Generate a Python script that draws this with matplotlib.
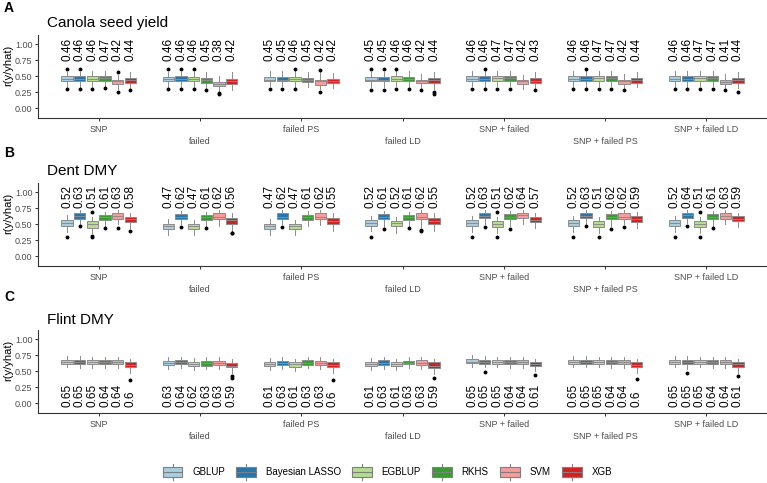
import matplotlib
matplotlib.use("Agg")
import matplotlib.pyplot as plt
from matplotlib.legend_handler import HandlerBase
from matplotlib.patches import Rectangle, Patch
from matplotlib.lines import Line2D

plt.rcParams['font.family'] = ['Liberation Sans', 'DejaVu Sans']

groups = ['SNP', 'failed', 'failed PS', 'failed LD',
          'SNP + failed', 'SNP + failed PS', 'SNP + failed LD']
models = ['GBLUP', 'Bayesian LASSO', 'EGBLUP', 'RKHS', 'SVM', 'XGB']
colors = ['#A6CEE3', '#1F78B4', '#B2DF8A', '#33A02C', '#FB9A99', '#E31A1C']

# ---- Canola seed yield ----
canola_r = [[.46, .46, .46, .47, .42, .44],
            [.46, .46, .46, .45, .38, .42],
            [.45, .45, .46, .45, .42, .42],
            [.45, .45, .46, .46, .42, .44],
            [.46, .46, .47, .47, .42, .43],
            [.46, .46, .47, .47, .42, .44],
            [.46, .46, .47, .47, .41, .44]]
canola_q1 = [[.42, .42, .42, .43, .38, .40],
             [.42, .42, .42, .40, .35, .38],
             [.42, .42, .42, .41, .37, .39],
             [.42, .42, .43, .42, .39, .39],
             [.43, .42, .43, .43, .38, .40],
             [.42, .42, .43, .43, .38, .40],
             [.42, .42, .43, .43, .38, .40]]
canola_q3 = [[.50, .50, .50, .51, .45, .48],
             [.49, .50, .49, .48, .41, .46],
             [.49, .49, .49, .48, .45, .46],
             [.49, .49, .50, .49, .45, .47],
             [.51, .50, .50, .50, .45, .47],
             [.50, .50, .50, .50, .45, .48],
             [.50, .50, .50, .51, .45, .48]]
canola_lo = [[.34, .34, .34, .35, .30, .31],
             [.34, .34, .34, .32, .27, .29],
             [.35, .35, .34, .33, .30, .32],
             [.34, .34, .35, .34, .31, .30],
             [.35, .34, .35, .35, .31, .32],
             [.34, .34, .35, .35, .31, .33],
             [.34, .34, .35, .35, .31, .32]]
canola_hi = [[.57, .57, .59, .59, .52, .57],
             [.57, .57, .57, .56, .51, .56],
             [.58, .58, .58, .56, .56, .55],
             [.57, .57, .58, .58, .53, .56],
             [.59, .58, .58, .59, .52, .56],
             [.58, .58, .58, .59, .53, .57],
             [.58, .58, .58, .59, .53, .56]]
canola_out = {(0, 0): [.30, .61], (0, 1): [.30, .61], (0, 2): [.31], (0, 3): [.32],
              (0, 4): [.26, .56], (0, 5): [.28],
              (1, 0): [.30, .61], (1, 1): [.30, .61], (1, 2): [.30, .61], (1, 3): [.29],
              (1, 4): [.22, .24],
              (2, 0): [.30], (2, 1): [.30], (2, 2): [.30, .61], (2, 4): [.25, .60],
              (3, 0): [.29, .61], (3, 1): [.29, .61], (3, 2): [.30, .62], (3, 3): [.30],
              (3, 4): [.28], (3, 5): [.23, .25],
              (4, 0): [.30], (4, 1): [.30, .62], (4, 2): [.31], (4, 3): [.31], (4, 5): [.29],
              (5, 0): [.30], (5, 1): [.30, .62], (5, 2): [.31], (5, 3): [.31], (5, 4): [.28],
              (6, 0): [.30], (6, 1): [.30], (6, 2): [.31], (6, 3): [.31], (6, 4): [.28],
              (6, 5): [.26]}

# ---- Dent DMY ----
dent_r = [[.52, .63, .51, .61, .63, .58],
          [.47, .62, .47, .61, .62, .56],
          [.47, .62, .47, .61, .62, .55],
          [.52, .61, .52, .61, .62, .55],
          [.52, .63, .51, .62, .64, .57],
          [.52, .63, .51, .62, .62, .59],
          [.52, .64, .51, .61, .63, .59]]
dent_q1 = [[.48, .59, .45, .57, .58, .53],
           [.43, .58, .43, .57, .58, .51],
           [.43, .59, .43, .57, .58, .50],
           [.48, .58, .47, .57, .58, .51],
           [.48, .60, .46, .58, .60, .53],
           [.48, .60, .46, .58, .59, .54],
           [.48, .60, .46, .58, .59, .55]]
dent_q3 = [[.56, .67, .55, .65, .67, .62],
           [.51, .66, .50, .65, .67, .60],
           [.50, .67, .50, .65, .67, .60],
           [.56, .66, .55, .65, .67, .60],
           [.56, .67, .55, .66, .67, .61],
           [.56, .68, .55, .66, .67, .63],
           [.56, .68, .55, .66, .67, .63]]
dent_lo = [[.38, .50, .36, .47, .50, .45],
           [.33, .50, .34, .47, .47, .40],
           [.34, .50, .34, .48, .49, .40],
           [.39, .46, .37, .48, .46, .40],
           [.38, .50, .37, .47, .50, .45],
           [.38, .51, .36, .47, .50, .44],
           [.38, .52, .36, .46, .50, .46]]
dent_hi = [[.64, .72, .62, .70, .72, .68],
           [.58, .71, .57, .70, .72, .68],
           [.58, .72, .57, .71, .72, .67],
           [.63, .71, .62, .70, .72, .67],
           [.63, .72, .62, .71, .72, .68],
           [.63, .73, .62, .71, .72, .69],
           [.63, .73, .62, .71, .72, .68]]
dent_out = {(0, 0): [.31], (0, 1): [.47], (0, 2): [.31, .32, .69], (0, 3): [.44],
            (0, 4): [.44], (0, 5): [.39],
            (1, 1): [.46], (1, 3): [.44], (1, 5): [.36, .37],
            (2, 1): [.46],
            (3, 0): [.31], (3, 1): [.43], (3, 3): [.44], (3, 4): [.39, .41],
            (4, 0): [.31], (4, 1): [.46], (4, 2): [.31, .69], (4, 3): [.43],
            (5, 0): [.31], (5, 1): [.47], (5, 2): [.31], (5, 3): [.43], (5, 4): [.46],
            (6, 0): [.31], (6, 1): [.47], (6, 2): [.31, .69], (6, 3): [.44]}

# ---- Flint DMY ----
flint_r = [[.65, .65, .65, .64, .64, .6],
           [.63, .64, .62, .63, .63, .59],
           [.61, .63, .61, .63, .63, .6],
           [.61, .63, .61, .63, .63, .59],
           [.65, .65, .65, .64, .64, .61],
           [.65, .65, .65, .64, .64, .6],
           [.65, .65, .65, .64, .64, .61]]
flint_q1 = [[.62, .62, .61, .61, .61, .56],
            [.60, .61, .58, .59, .60, .56],
            [.58, .60, .57, .60, .60, .56],
            [.58, .60, .58, .61, .60, .55],
            [.63, .62, .62, .61, .61, .58],
            [.62, .62, .62, .61, .61, .56],
            [.62, .61, .62, .61, .61, .57]]
flint_q3 = [[.68, .68, .68, .67, .67, .65],
            [.66, .67, .65, .66, .66, .63],
            [.65, .66, .64, .67, .66, .64],
            [.65, .67, .64, .66, .67, .64],
            [.69, .68, .68, .67, .67, .64],
            [.68, .68, .68, .67, .67, .64],
            [.68, .68, .68, .67, .67, .64]]
flint_lo = [[.56, .55, .55, .55, .55, .48],
            [.53, .55, .52, .53, .54, .48],
            [.52, .54, .51, .55, .54, .47],
            [.52, .54, .52, .55, .54, .46],
            [.57, .56, .56, .55, .55, .51],
            [.56, .56, .56, .55, .55, .48],
            [.56, .53, .56, .55, .55, .47]]
flint_hi = [[.74, .74, .73, .73, .73, .70],
            [.72, .73, .71, .72, .72, .69],
            [.71, .72, .70, .73, .72, .70],
            [.71, .72, .70, .72, .72, .70],
            [.75, .74, .73, .73, .73, .70],
            [.74, .74, .73, .73, .73, .70],
            [.74, .74, .73, .73, .73, .70]]
flint_out = {(0, 5): [.37], (1, 5): [.40, .42], (2, 5): [.36], (3, 5): [.40],
             (4, 1): [.49], (4, 5): [.45], (5, 5): [.38], (6, 1): [.47], (6, 5): [.42]}


class BoxHandler(HandlerBase):
    def create_artists(self, legend, orig_handle, xdescent, ydescent,
                       width, height, fontsize, trans):
        x0, y0 = -xdescent, -ydescent
        cx, cy = x0 + width / 2, y0 + height / 2
        whisk = Line2D([cx, cx], [y0 - 0.25 * height, y0 + 1.25 * height],
                       color='#7f7f7f', lw=0.8, transform=trans)
        box = Rectangle((x0, y0), width, height, facecolor=orig_handle.get_facecolor(),
                        edgecolor='#7f7f7f', lw=0.8, transform=trans)
        med = Line2D([x0, x0 + width], [cy, cy], color='#7f7f7f', lw=0.8, transform=trans)
        return [whisk, box, med]


def draw_panel(ax, r, q1, q3, lo, hi, out, label_y):
    step = 0.125
    for m in range(len(models)):
        stats = []
        pos = []
        for g in range(len(groups)):
            stats.append(dict(med=r[g][m], q1=q1[g][m], q3=q3[g][m],
                              whislo=lo[g][m], whishi=hi[g][m],
                              fliers=out.get((g, m), [])))
            pos.append(g + 1 + (m - 2.5) * step)
        ax.bxp(stats, positions=pos, widths=0.112, patch_artist=True, showcaps=False,
               boxprops=dict(facecolor=colors[m], edgecolor='#8c8c8c', linewidth=0.7),
               medianprops=dict(color='#8c8c8c', linewidth=0.7),
               whiskerprops=dict(color='#8c8c8c', linewidth=0.7),
               flierprops=dict(marker='o', markersize=1.8, markerfacecolor='black',
                               markeredgecolor='black'))
        for g in range(len(groups)):
            ax.text(pos[g], label_y, str(r[g][m]), rotation=90, ha='center', va='bottom',
                    fontsize=8.5, color='black')

    ax.set_xlim(0.4, 7.6)
    ax.set_ylim(-0.15, 1.145)
    ax.set_yticks([0, 0.25, 0.5, 0.75, 1.0])
    ax.set_yticklabels(['0.00', '0.25', '0.50', '0.75', '1.00'])
    ax.set_xticks(range(1, 8))
    ax.set_xticklabels(groups)
    for s in ['top', 'right']:
        ax.spines[s].set_visible(False)
    for s in ['left', 'bottom']:
        ax.spines[s].set_color('#333333')
        ax.spines[s].set_linewidth(0.8)
    ax.tick_params(axis='both', length=2.5, width=0.7, color='#333333',
                   labelsize=6.5, labelcolor='#4d4d4d')
    ax.tick_params(axis='y', pad=1.5)
    for i, t in enumerate(ax.xaxis.get_major_ticks()):
        t.set_pad(2.5 if i % 2 == 0 else 11)
    ax.set_ylabel('r(y/yhat)', fontsize=8)
    ax.yaxis.set_label_coords(-0.034, 0.63)


fig = plt.figure(figsize=(7.67, 4.83), dpi=100)
W, H = 767.0, 483.0
left, width = 38 / W, 729 / W

panels = [
    ('A', 'Canola seed yield', 118, 8, 23,
     canola_r, canola_q1, canola_q3, canola_lo, canola_hi, canola_out, 0.74),
    ('B', 'Dent DMY', 266, 153, 171,
     dent_r, dent_q1, dent_q3, dent_lo, dent_hi, dent_out, 0.76),
    ('C', 'Flint DMY', 413, 297, 320,
     flint_r, flint_q1, flint_q3, flint_lo, flint_hi, flint_out, -0.06),
]

for letter, title, bottom_px, letter_y, title_y, r, q1, q3, lo, hi, out, ly in panels:
    ax = fig.add_axes([left, 1 - bottom_px / H, width, 83 / H])
    draw_panel(ax, r, q1, q3, lo, hi, out, ly)
    fig.text(4 / W, 1 - letter_y / H, letter, fontsize=10, fontweight='bold',
             ha='left', va='center')
    fig.text(47 / W, 1 - title_y / H, title, fontsize=11, ha='left', va='center')

handles = [Patch(facecolor=c, edgecolor='#7f7f7f') for c in colors]
fig.legend(handles, models, handler_map={Patch: BoxHandler()}, ncol=6,
           loc='center', bbox_to_anchor=(0.505, 1 - 472 / H), frameon=False,
           fontsize=7, handlelength=2.0, handleheight=1.3, handletextpad=1.0,
           columnspacing=1.2)

fig.savefig('out.png', dpi=100)
